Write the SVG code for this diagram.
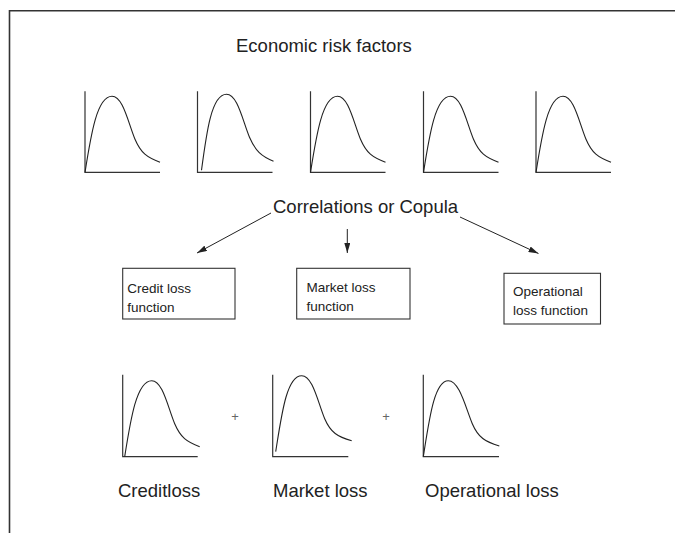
<svg xmlns="http://www.w3.org/2000/svg" width="675" height="533" viewBox="0 0 675 533">
<style>
.frame{stroke:#333;stroke-width:1.6;fill:none}
.axis{stroke:#333;stroke-width:1.2;fill:none}
.curve{stroke:#222;stroke-width:1.1;fill:none}
.box{stroke:#333;stroke-width:1.1;fill:#fff}
.conn{stroke:#222;stroke-width:1;fill:none}
text{font-family:"Liberation Sans",Arial,sans-serif;fill:#222}
.big{font-size:18.5px}
.small{font-size:13.5px}
.plus{font-size:13px;fill:#666}
</style>
<defs>
<marker id="arr" viewBox="0 0 10 6" refX="10" refY="3" markerWidth="10" markerHeight="6" markerUnits="userSpaceOnUse" orient="auto">
<path d="M0,0 L10,3 L0,6 Z" fill="#222"/>
</marker>
</defs>
<rect width="675" height="533" fill="#fff"/>
<path class="frame" d="M9.5,533 V10.7 H675"/>
<g id="title"><text class="big" x="236" y="51.5">Economic risk factors</text></g>
<g id="factor1" transform="translate(85,172.3)">
<path class="axis" d="M0,-81 V0 H75"/>
<path class="curve" d="M0,0 C6,-38 12,-76 27,-76 C38,-76 43,-50 50,-33 C56,-19 62,-15 75,-10"/>
</g>
<g id="factor2" transform="translate(197.5,172.3)">
<path class="axis" d="M0,-81 V0 H75"/>
<path class="curve" d="M4,-2 C9,-40 14,-78 29,-78 C40,-78 45,-52 52,-35 C58,-21 64,-16 76,-11"/>
</g>
<g id="factor3" transform="translate(310.5,172.3)">
<path class="axis" d="M0,-81 V0 H75"/>
<path class="curve" d="M0,0 C6,-38 12,-76 27,-76 C38,-76 43,-50 50,-33 C56,-19 62,-15 75,-10"/>
</g>
<g id="factor4" transform="translate(423.5,172.3)">
<path class="axis" d="M0,-81 V0 H75"/>
<path class="curve" d="M0,0 C6,-38 12,-76 27,-76 C38,-76 43,-50 50,-33 C56,-19 62,-15 75,-10"/>
</g>
<g id="factor5" transform="translate(536,172.3)">
<path class="axis" d="M0,-81 V0 H75"/>
<path class="curve" d="M0,0 C6,-38 12,-76 27,-76 C38,-76 43,-50 50,-33 C56,-19 62,-15 75,-10"/>
</g>
<g id="copula"><text class="big" x="273" y="212.5">Correlations or Copula</text></g>
<g id="connectors">
<path class="conn" d="M271,213 L197,253" marker-end="url(#arr)"/>
<path class="conn" d="M347.3,229 L347.3,253" marker-end="url(#arr)"/>
<path class="conn" d="M460,217 L538.5,253.5" marker-end="url(#arr)"/>
</g>
<g id="credit-fn">
<rect class="box" x="122.7" y="268.3" width="112.3" height="50.7"/>
<text class="small" x="127.3" y="293">Credit loss</text>
<text class="small" x="127.3" y="311.5">function</text>
</g>
<g id="market-fn">
<rect class="box" x="296.7" y="268.3" width="113.3" height="50.7"/>
<text class="small" x="306.5" y="292">Market loss</text>
<text class="small" x="306.5" y="311">function</text>
</g>
<g id="operational-fn">
<rect class="box" x="504" y="273.3" width="96.5" height="50.7"/>
<text class="small" x="513" y="296">Operational</text>
<text class="small" x="513" y="314.5">loss function</text>
</g>
<g id="credit-loss" transform="translate(122.7,456.7)">
<path class="axis" d="M0,-82 V0 H75"/>
<path class="curve" d="M2,0 C8,-38 14,-76 29,-76 C40,-76 45,-50 52,-33 C58,-19 64,-15 77,-10"/>
<text class="big" x="-4.7" y="40">Creditloss</text>
</g>
<g id="plus1"><text class="plus" x="235" y="421" text-anchor="middle">+</text></g>
<g id="market-loss" transform="translate(272.7,456.7)">
<path class="axis" d="M0,-82 V0 H75.6"/>
<path class="curve" d="M3,-5 C9,-43 14,-81 29,-81 C40,-81 45,-55 52,-38 C58,-24 65,-20 79,-16"/>
<text class="big" x="0.3" y="40">Market loss</text>
</g>
<g id="plus2"><text class="plus" x="386" y="421" text-anchor="middle">+</text></g>
<g id="operational-loss" transform="translate(423.3,456.7)">
<path class="axis" d="M0,-82 V0 H75.7"/>
<path class="curve" d="M0,0 C6,-38 11,-76 25,-76 C36,-76 42,-50 49,-33 C55,-19 62,-15 76,-10.7"/>
<text class="big" x="1.7" y="40">Operational loss</text>
</g>
</svg>
